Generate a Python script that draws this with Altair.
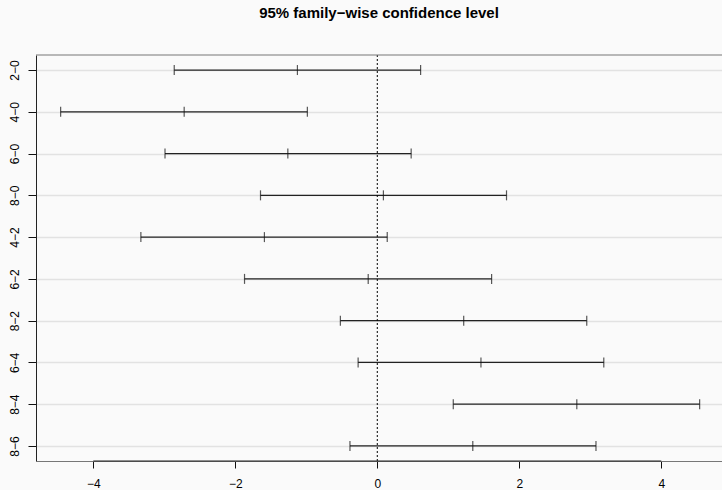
import altair as alt
import pandas as pd

labels = ["2−0", "4−0", "6−0", "8−0", "4−2", "6−2", "8−2", "6−4", "8−4", "8−6"]
diff = [-1.125, -2.72, -1.26, 0.086, -1.59, -0.128, 1.217, 1.46, 2.81, 1.345]
lwr = [-2.86, -4.46, -2.99, -1.645, -3.33, -1.87, -0.52, -0.27, 1.07, -0.385]
upr = [0.61, -0.985, 0.477, 1.82, 0.14, 1.61, 2.95, 3.19, 4.54, 3.08]
x_ticks = [-4, -2, 0, 2, 4]

df = pd.DataFrame({"comp": labels, "diff": diff, "lwr": lwr, "upr": upr})
ticks_df = pd.concat([
    pd.DataFrame({"comp": labels, "v": lwr}),
    pd.DataFrame({"comp": labels, "v": diff}),
    pd.DataFrame({"comp": labels, "v": upr}),
])

W, H = 686, 406
FONT = "Liberation Sans"

xscale = alt.Scale(domain=[-4.807, 4.855], nice=False, zero=False)
yscale = alt.Scale(type="point", domain=labels, padding=0.36)

xaxis = alt.Axis(values=x_ticks, format="d", grid=False, tickSize=7, tickColor="#111",
                 domainColor="#777", domainWidth=1, labelFontSize=12, labelFont=FONT,
                 labelColor="#000", labelPadding=10, title=None, labelFlush=False)
yaxis = alt.Axis(grid=True, gridColor="#e2e2e2", gridWidth=1.5, tickSize=8, tickColor="#111",
                 domainColor="#222", domainWidth=1, labelAngle=-90, labelAlign="center",
                 labelBaseline="alphabetic", labelFontSize=12, labelFont=FONT,
                 labelColor="#000", labelPadding=10, title=None)

base = alt.Chart(df)

bars = base.mark_rule(color="#222", strokeWidth=1.2).encode(
    x=alt.X("lwr:Q", scale=xscale, axis=xaxis),
    x2="upr:Q",
    y=alt.Y("comp:N", scale=yscale, axis=yaxis, sort=labels),
)

ticks = alt.Chart(ticks_df).mark_tick(color="#111", size=10, thickness=1.2).encode(
    x=alt.X("v:Q", scale=xscale),
    y=alt.Y("comp:N", scale=yscale, sort=labels),
)

zero = alt.Chart(pd.DataFrame({"z": [0]})).mark_rule(
    color="#000", strokeWidth=1, strokeDash=[2, 2]
).encode(x=alt.X("z:Q", scale=xscale), y=alt.value(0), y2=alt.value(H))

top_border = alt.Chart(pd.DataFrame({"a": [0]})).mark_rule(color="#777", strokeWidth=1).encode(
    x=alt.value(0), x2=alt.value(W), y=alt.value(0)
)

axis_line = alt.Chart(pd.DataFrame({"a": [-4], "b": [4]})).mark_rule(
    color="#222", strokeWidth=1
).encode(x=alt.X("a:Q", scale=xscale), x2="b:Q", y=alt.value(H))

chart = alt.layer(bars, zero, ticks, top_border, axis_line).properties(
    width=W,
    height=H,
    autosize="none",
    padding={"left": 36, "top": 55, "right": 0, "bottom": 29},
    title=alt.TitleParams(
        "95% family−wise confidence level",
        font=FONT, fontSize=15, fontWeight="bold", color="#000",
        anchor="middle", baseline="alphabetic", offset=22,
    ),
).configure(background="#fafafa").configure_view(stroke=None, fill="#fafafa")

chart.save("out.html", embed_options={"renderer": "svg", "actions": False})
